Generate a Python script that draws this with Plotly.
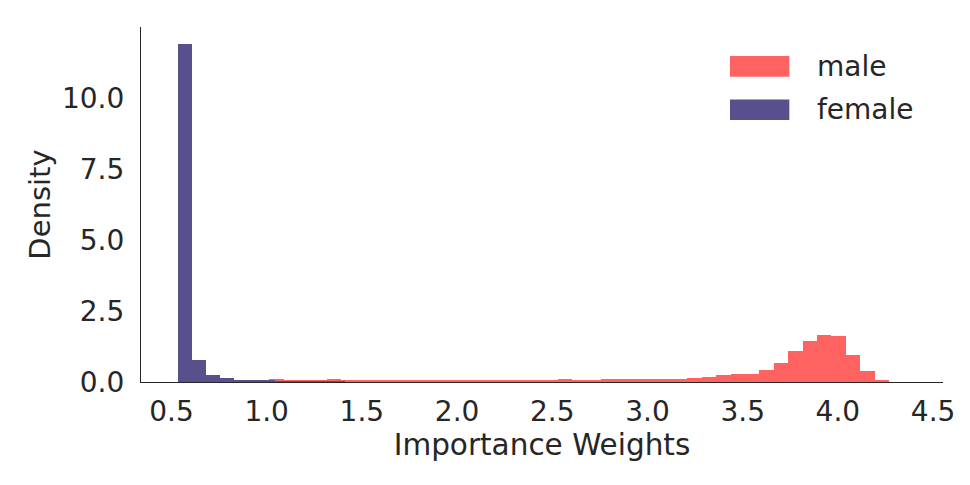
import numpy as np
import plotly.graph_objects as go

# histogram densities (50 bins each)
male_bin_start = 0.484
male_bin_width = 0.0757
male_density = [
    0.00, 0.20, 0.12, 0.10, 0.06, 0.07, 0.07, 0.09, 0.06, 0.06,
    0.07, 0.09, 0.07, 0.06, 0.06, 0.06, 0.08, 0.05, 0.08, 0.07,
    0.04, 0.08, 0.06, 0.07, 0.07, 0.07, 0.07, 0.10, 0.07, 0.07,
    0.10, 0.12, 0.12, 0.09, 0.11, 0.09, 0.15, 0.18, 0.23, 0.27,
    0.28, 0.41, 0.68, 1.08, 1.43, 1.67, 1.61, 0.94, 0.38, 0.07,
]

female_bin_start = 0.5356
female_bin_width = 0.0728
female_density = [
    11.92, 0.78, 0.25, 0.15, 0.08, 0.05, 0.04, 0.03, 0.03, 0.02,
    0.02, 0.01, 0.00, 0.00, 0.00, 0.00, 0.00, 0.00, 0.00, 0.00,
    0.00, 0.00, 0.00, 0.00, 0.00, 0.00, 0.00, 0.00, 0.00, 0.00,
    0.00, 0.00, 0.00, 0.00, 0.00, 0.00, 0.00, 0.00, 0.00, 0.00,
    0.00, 0.00, 0.00, 0.00, 0.00, 0.00, 0.00, 0.00, 0.00, 0.00,
]

x_ticks = [0.5, 1.0, 1.5, 2.0, 2.5, 3.0, 3.5, 4.0, 4.5]
y_ticks = [0.0, 2.5, 5.0, 7.5, 10.0]

MALE_COLOR = "#ff6361"
FEMALE_COLOR = "#58508d"
TEXT_COLOR = "#262626"
FONT = "DejaVu Sans"


def bin_centers(start, width, n):
    return start + width * (np.arange(n) + 0.5)


fig = go.Figure()

fig.add_trace(go.Bar(
    x=bin_centers(male_bin_start, male_bin_width, len(male_density)),
    y=male_density,
    width=male_bin_width,
    name="male",
    marker=dict(color=MALE_COLOR, line=dict(width=0)),
))

fig.add_trace(go.Bar(
    x=bin_centers(female_bin_start, female_bin_width, len(female_density)),
    y=female_density,
    width=female_bin_width,
    name="female",
    marker=dict(color=FEMALE_COLOR, line=dict(width=0)),
))

# legend drawn by hand so the patches look like matplotlib's
legend_items = [("male", MALE_COLOR, 0.860, 0.918), ("female", FEMALE_COLOR, 0.738, 0.796)]
for label, color, y0, y1 in legend_items:
    fig.add_shape(
        type="rect", xref="paper", yref="paper",
        x0=0.7344, x1=0.8084, y0=y0, y1=y1,
        fillcolor=color, line=dict(width=0),
    )
    fig.add_annotation(
        xref="paper", yref="paper", x=0.8404, y=(y0 + y1) / 2,
        text=label, showarrow=False, xanchor="left", yanchor="middle",
        font=dict(family=FONT, size=28, color=TEXT_COLOR),
    )

# the page body adds an 8px offset, so the figure is 8px smaller
fig.update_layout(
    width=962,
    height=477,
    barmode="overlay",
    bargap=0,
    showlegend=False,
    plot_bgcolor="white",
    paper_bgcolor="white",
    margin=dict(l=133, r=27, t=19, b=103),
    font=dict(family=FONT, size=28, color=TEXT_COLOR),
    xaxis=dict(
        range=[0.34, 4.552],
        tickvals=x_ticks,
        tickformat=".1f",
        showgrid=False,
        zeroline=False,
        showline=True,
        linecolor=TEXT_COLOR,
        linewidth=1.3,
        ticks="outside",
        ticklen=4,
        tickcolor="rgba(0,0,0,0)",
        title=dict(text="Importance Weights", standoff=0,
                   font=dict(family=FONT, size=29.5, color=TEXT_COLOR)),
    ),
    yaxis=dict(
        range=[0, 12.53],
        tickvals=y_ticks,
        tickformat=".1f",
        showgrid=False,
        zeroline=False,
        showline=True,
        linecolor=TEXT_COLOR,
        linewidth=1.3,
        ticks="outside",
        ticklen=10,
        tickcolor="rgba(0,0,0,0)",
        title=dict(text="Density", standoff=2,
                   font=dict(family=FONT, size=29, color=TEXT_COLOR)),
    ),
)

fig.write_html("out.html")
